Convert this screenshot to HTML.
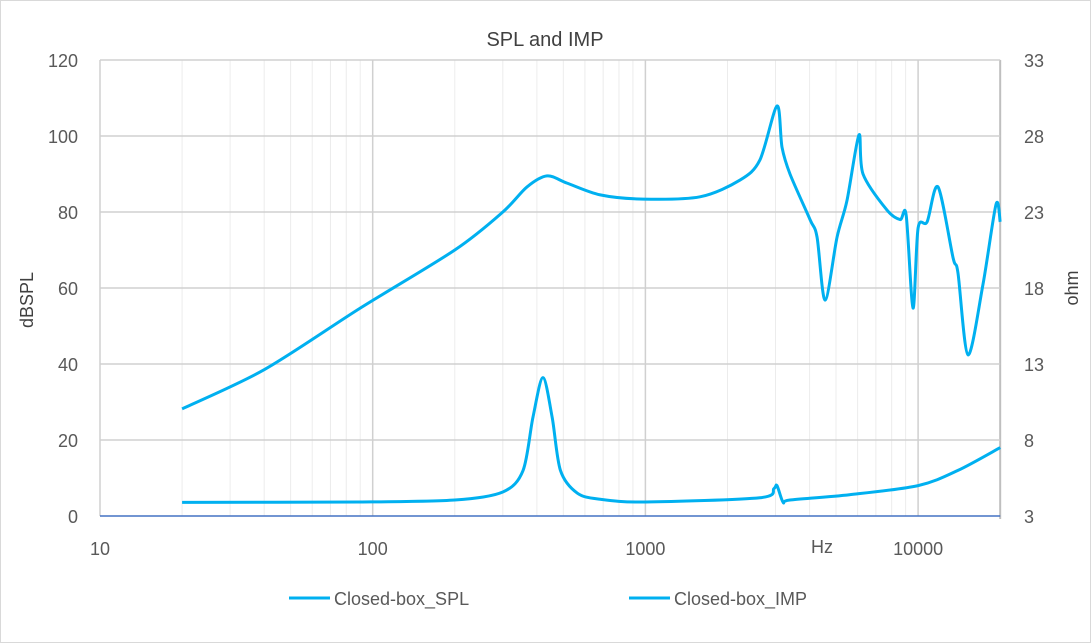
<!DOCTYPE html>
<html><head><meta charset="utf-8"><style>
body{margin:0;background:#fff}
svg{display:block;font-family:"Liberation Sans",sans-serif}
</style></head><body>
<svg id="chart" width="1091" height="643" viewBox="0 0 1091 643">
<rect x="0.5" y="0.5" width="1090" height="642" fill="#fff" stroke="#d9d9d9"/>
<text x="545" y="46" text-anchor="middle" font-size="20" fill="#404040">SPL and IMP</text>
<g id="grid"></g>
<g id="axes"></g>
<g id="series"></g>
<text transform="translate(33,300) rotate(-90)" text-anchor="middle" font-size="18" fill="#404040">dBSPL</text>
<text transform="translate(1078,288) rotate(-90)" text-anchor="middle" font-size="18" fill="#404040">ohm</text>
<text x="822" y="553" text-anchor="middle" font-size="18" fill="#595959">Hz</text>
<g>
<line x1="289" y1="598" x2="330" y2="598" stroke="#00b0f0" stroke-width="3"/>
<text x="334" y="605" font-size="18" fill="#595959">Closed-box_SPL</text>
<line x1="629" y1="598" x2="670" y2="598" stroke="#00b0f0" stroke-width="3"/>
<text x="674" y="605" font-size="18" fill="#595959">Closed-box_IMP</text>
</g>
</svg>
<script>
const splFreq=[20,40,90,200,300,368,436,516,683,980,1585,2223,2630,3038,3170,3390,4015,4260,4560,5045,5485,6070,6280,7690,8590,9040,9580,10000,10790,11830,13430,14000,15240,17300,19310,20000];
const splVal=[28.2,38.5,54.7,70,80,86.6,89.5,87.6,84.5,83.4,84,88.4,93.7,107.9,97,90,78,73.4,56.8,73.4,83,100.3,90,80.5,78,79.2,54.7,75.8,77.4,86.6,68,64,42.4,61,82,77.4];
const impFreq=[20,90,200,300,356,387,421,455,488,563,683,1000,2630,2960,3038,3200,3390,5600,10000,14000,20000];
const impVal=[3.9,3.92,4.05,4.58,6.0,9.5,12.1,9.5,6.0,4.5,4.1,3.92,4.2,4.8,5.0,3.9,4.05,4.4,5.0,6.0,7.5];
const leftTicks=[0,20,40,60,80,100,120];
const rightTicks=[3,8,13,18,23,28,33];
const xTicks=[10,100,1000,10000];
const X0=100,DEC=272.7,Y0=516,Y1=60;
const xs=f=>X0+(Math.log10(f)-1)*DEC;
const yl=v=>Y0-(v/120)*(Y0-Y1);
const yr=v=>Y0-((v-3)/30)*(Y0-Y1);
const NS="http://www.w3.org/2000/svg";
function mk(tag,attrs,parent,txt){const e=document.createElementNS(NS,tag);for(const k in attrs)e.setAttribute(k,attrs[k]);if(txt!==undefined)e.textContent=txt;parent.appendChild(e);return e;}
const grid=document.getElementById('grid'),axes=document.getElementById('axes'),series=document.getElementById('series');
for(let d=10;d<=10000;d*=10){for(let m=1;m<=9;m++){const f=d*m;if(f>20000)break;const x=xs(f);const l=mk('line',{x1:x,y1:Y1,x2:x,y2:Y0,stroke:m===1?'#d0d0d0':'#ececec','stroke-width':m===1?1.5:1},grid);}}
const rl=mk('line',{x1:xs(20000),y1:Y1,x2:xs(20000),y2:Y0+3,stroke:'#bfbfbf','stroke-width':2},grid);
leftTicks.forEach(v=>{const y=yl(v);if(v>0){const g=mk('line',{x1:X0,y1:y,x2:xs(20000),y2:y,stroke:'#d0d0d0','stroke-width':1.5},grid);}
const t=mk('text',{x:78,y:y+7,'text-anchor':'end','font-size':18,fill:'#595959'},axes,String(v));});
rightTicks.forEach(v=>{const t=mk('text',{x:1024,y:yr(v)+7,'font-size':18,fill:'#595959'},axes,String(v));});
xTicks.forEach(v=>{const t=mk('text',{x:xs(v),y:555,'text-anchor':'middle','font-size':18,fill:'#595959'},axes,String(v));});
const xa=mk('line',{x1:X0,y1:Y0,x2:xs(20000),y2:Y0,stroke:'#4472c4','stroke-width':1.5},axes);
function smooth(pts){let d='M'+pts[0][0]+','+pts[0][1];for(let i=0;i<pts.length-1;i++){const p0=pts[Math.max(i-1,0)],p1=pts[i],p2=pts[i+1],p3=pts[Math.min(i+2,pts.length-1)];const t=0.15;d+=' C'+(p1[0]+(p2[0]-p0[0])*t)+','+(p1[1]+(p2[1]-p0[1])*t)+' '+(p2[0]-(p3[0]-p1[0])*t)+','+(p2[1]-(p3[1]-p1[1])*t)+' '+p2[0]+','+p2[1];}return d;}
const sp=mk('path',{d:smooth(splFreq.map((f,i)=>[xs(f),yl(splVal[i])])),fill:'none',stroke:'#00b0f0','stroke-width':3,'stroke-linejoin':'round'},series);

const ip=mk('path',{d:smooth(impFreq.map((f,i)=>[xs(f),yr(impVal[i])])),fill:'none',stroke:'#00b0f0','stroke-width':3,'stroke-linejoin':'round'},series);

</script>
</body></html>
